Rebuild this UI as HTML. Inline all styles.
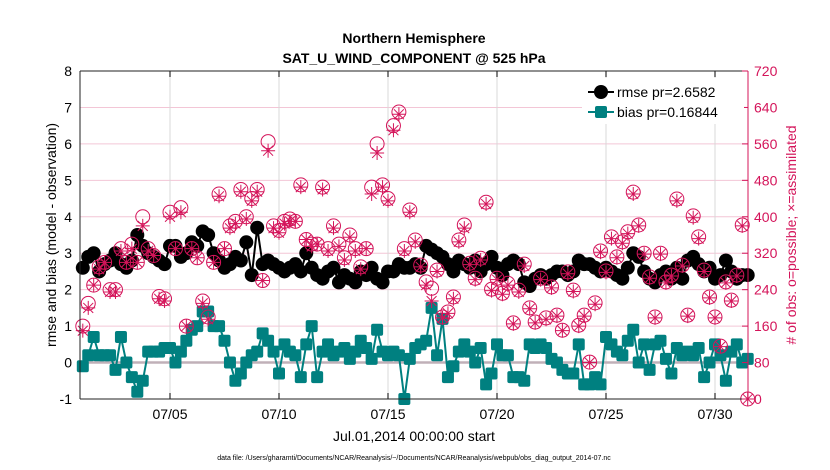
<!DOCTYPE html>
<html><head><meta charset="utf-8"><style>
body{margin:0;background:#fff;font-family:"Liberation Sans",sans-serif}
svg{display:block}
</style></head><body>
<svg id="c" width="830" height="470" xmlns="http://www.w3.org/2000/svg">
<text x="414" y="43" text-anchor="middle" font-size="14" font-weight="bold">Northern Hemisphere</text>
<text x="414" y="63" text-anchor="middle" font-size="14" font-weight="bold">SAT_U_WIND_COMPONENT @ 525 hPa</text>
<g id="grid"></g><g id="marks"></g><g id="axes"></g>
<text transform="translate(56,235) rotate(-90)" text-anchor="middle" font-size="14">rmse and bias (model - observation)</text>
<text transform="translate(796,235) rotate(-90)" text-anchor="middle" font-size="14" fill="#d4145a"># of obs: o=possible; ×=assimilated</text>
<text x="414" y="441" text-anchor="middle" font-size="14">Jul.01,2014 00:00:00 start</text>
<text x="414" y="460" text-anchor="middle" font-size="7">data file: /Users/gharamti/Documents/NCAR/Reanalysis/~/Documents/NCAR/Reanalysis/webpub/obs_diag_output_2014-07.nc</text>
<g>
<rect x="582" y="78" width="162" height="46" fill="#fff"/>
<line x1="588" y1="92" x2="614" y2="92" stroke="#000" stroke-width="2"/><circle cx="601" cy="92" r="7"/>
<text x="617" y="97" font-size="14">rmse pr=2.6582</text>
<line x1="588" y1="112" x2="614" y2="112" stroke="#008080" stroke-width="2"/><rect x="595" y="106" width="12" height="12" rx="2" fill="#008080"/>
<text x="617" y="117" font-size="14">bias pr=0.16844</text>
</g>
</svg>
<script>
const rmse=[2.6,2.9,3.0,2.5,2.7,2.8,3.0,2.7,2.6, 2.8,3.5,3.2,3.0,2.9,2.8,2.7,3.2, 3.2,2.9,3.0,3.3,3.2,3.6,3.5,3.0, 2.8,2.6,2.7,2.9,2.8,3.3,2.4,3.7, 2.7,2.8,2.7,2.6,2.5,2.6,2.7,2.5, 3.0,2.6,2.4,2.3,2.5,2.6,2.2,2.4, 2.3,2.2,2.5,2.4,2.6,2.3,2.2,2.5, 2.5,2.7,2.6,2.6,2.7,2.6,3.2,3.1, 3.0,2.9,2.7,2.5,2.8,2.7,2.6,2.8, 2.5,2.7,2.9,2.6,2.4,2.7,2.8,2.7, 2.2,2.1,2.3,2.4,2.3,2.4,2.5,2.5, 2.4,2.5,2.8,2.7,2.7,2.6,2.5,2.6, 2.5,2.4,2.3,2.6,3.0,2.9,2.5,2.3, 2.2,2.4,2.5,2.3,2.6,2.3,2.8,2.9, 2.7,2.5,2.6,2.3,2.4,2.8,2.5,2.3,2.4,2.4];
const bias=[-0.1,0.2,0.7,0.2,0.2,0.2,-0.2,0.7,0.0, -0.4,-0.8,-0.5,0.3,0.3,0.3,0.4,0.4, 0.0,0.3,0.6,0.9,1.0,1.4,1.4,1.0, 1.0,0.6,0.0,-0.5,-0.3,0.0,0.2,0.3, 0.8,0.6,0.3,-0.3,0.5,0.3,0.2,-0.4, 0.5,1.0,-0.4,0.3,0.5,0.2,0.3,0.4, 0.1,0.3,0.6,0.4,0.1,0.9,0.3,0.2, 0.3,0.2,-1.0,0.1,0.4,0.5,0.6,1.5, 0.2,1.2,-0.4,-0.1,0.3,0.5,0.3,0.0, 0.4,-0.6,-0.3,0.5,0.2,0.2,-0.4,-0.4, -0.5,0.5,0.4,0.5,0.4,0.1,0.0,-0.2, -0.3,-0.3,0.5,-0.6,-0.6,-0.4,-0.6,0.7, 0.5,0.3,0.2,0.6,0.9,0.0,0.5,-0.2, 0.5,0.6,0.1,-0.3,0.4,0.2,0.3,0.2, 0.4,-0.4,0.0,0.5,0.2,-0.5,0.3,0.5,0.0,0.1];
const possible=[160,210,250,290,300,240,240,330,300, 340,300,400,330,315,225,220,410, 330,420,160,330,310,215,180,300, 450,330,380,390,460,400,440,460, 260,565,380,370,390,395,390,470, 350,340,340,465,330,380,340,310, 360,330,290,330,465,560,470,440, 600,630,330, 415,349,294,257,243,283,180,191,224,349,382,298,265,309,432,241,265,232,254,167,239,296,200,169,265,178,246,184,151,279,239, 162,184,81,211,325,281,356,312,345,367,454,382,320,268,180,320,257,272,439,294,184,402,356,283,224,180,116,257,217,272,382,0];
const assimilated=[150,200,250,285,300,235,235,325,300, 330,300,380,325,315,220,215,400, 330,410,160,330,310,210,175,300, 445,330,375,385,455,395,435,455, 260,545,375,365,385,390,390,465, 350,335,340,460,325,375,335,305, 355,325,285,330,450,540,465,435, 590,625,325, 410,345,290,250,215,280,178,188,220,345,375,295,262,305,428,238,262,230,250,165,235,292,198,167,262,175,244,182,150,275,236, 160,182,80,208,322,278,352,310,342,363,450,380,318,265,178,318,255,270,435,292,182,398,352,280,222,178,115,255,215,270,380,0];
const tickDays=[4,9,14,19,24,29];
const tickLabels=["07/05","07/10","07/15","07/20","07/25","07/30"];
const leftTicks=[-1,0,1,2,3,4,5,6,7,8];
const rightTicks=[0,80,160,240,320,400,480,560,640,720];
const NS="http://www.w3.org/2000/svg";
const X0=80,X1=748,Y0=71,Y1=399;
const xs=t=>82.8+t*21.8;
const yl=v=>Y1-(v+1)*(Y1-Y0)/9;
const yr=v=>Y1-v*(Y1-Y0)/720;
function mk(tag,at,parent){const e=document.createElementNS(NS,tag);for(const k in at)e.setAttribute(k,at[k]);parent.appendChild(e);return e;}
const grid=document.getElementById('grid'),marks=document.getElementById('marks'),axes=document.getElementById('axes');
leftTicks.forEach(v=>{const g=mk('line',{x1:X0,x2:X1,y1:yl(v),y2:yl(v),stroke:'#f3c6d6','stroke-width':1},grid);

});
tickDays.forEach((d,i)=>{const g=mk('line',{x1:xs(d),x2:xs(d),y1:Y0,y2:Y1,stroke:'#d8d8d8','stroke-width':1},grid);


const t=mk('text',{x:xs(d),y:Y1+20,'text-anchor':'middle','font-size':14},axes);t.textContent=tickLabels[i];


mk('line',{x1:xs(d),x2:xs(d),y1:Y1,y2:Y1-6,stroke:'#000'},axes);mk('line',{x1:xs(d),x2:xs(d),y1:Y0,y2:Y0+6,stroke:'#000'},axes);});
const zl=mk('line',{x1:X0,x2:X1,y1:yl(0),y2:yl(0),stroke:'#c0b0b8','stroke-width':2.5},grid);


function series(arr,color,name,sq){let d='';arr.forEach((v,i)=>{d+=(i?'L':'M')+xs(i*0.25).toFixed(1)+','+yl(v).toFixed(1);});
const p=mk('path',{d:d,fill:'none',stroke:color,'stroke-width':2},marks);


arr.forEach((v,i)=>{const x=xs(i*0.25),y=yl(v);let m;
if(sq)m=mk('rect',{x:x-6,y:y-6,width:12,height:12,rx:2,fill:color},marks);else m=mk('circle',{cx:x,cy:y,r:7,fill:color},marks);

});}
series(rmse,'#000','rmse',false);
series(bias,'#008080','bias',true);
const pk='#d4145a';
possible.forEach((v,i)=>{const c=mk('circle',{cx:xs(i*0.25),cy:yr(v),r:7,fill:'none',stroke:pk,'stroke-width':1},marks);

});
assimilated.forEach((v,i)=>{const x=xs(i*0.25),y=yr(v);let d='';for(let k=0;k<4;k++){const a=k*Math.PI/4;const dx=7*Math.cos(a),dy=7*Math.sin(a);d+=`M${x-dx},${y-dy}L${x+dx},${y+dy}`;}
const s=mk('path',{d:d,stroke:pk,'stroke-width':1},marks);

});
mk('line',{x1:X0,x2:X1,y1:Y0,y2:Y0,stroke:'#222'},axes);mk('line',{x1:X0,x2:X1,y1:Y1,y2:Y1,stroke:'#222'},axes);
mk('line',{x1:X0,x2:X0,y1:Y0,y2:Y1,stroke:'#222'},axes);mk('line',{x1:X1,x2:X1,y1:Y0,y2:Y1,stroke:pk},axes);
leftTicks.forEach(v=>{const t=mk('text',{x:X0-8,y:yl(v)+5,'text-anchor':'end','font-size':14},axes);t.textContent=v;

});
rightTicks.forEach(v=>{const t=mk('text',{x:X1+6,y:yr(v)+5,'font-size':14,fill:pk},axes);t.textContent=v;


mk('line',{x1:X1,x2:X1-6,y1:yr(v),y2:yr(v),stroke:pk},axes);});
</script>
</body></html>
